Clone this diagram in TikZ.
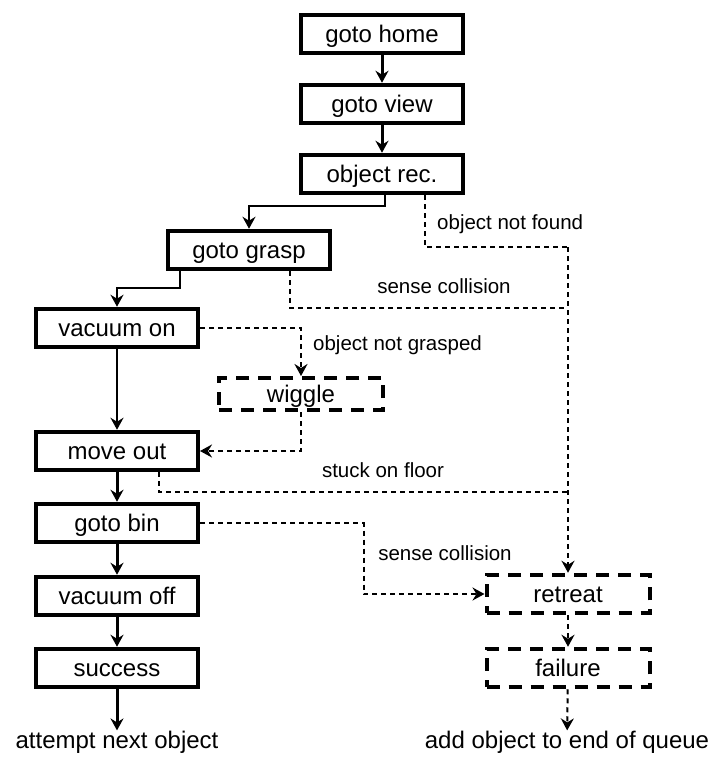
\documentclass[tikz,border=0pt]{standalone}
\usepackage{fontspec}
\setmainfont{Liberation Sans}
\usetikzlibrary{arrows.meta}
\begin{document}
\begin{tikzpicture}[x=1pt,y=-1pt,
  tip/.style={-{Stealth[length=12pt,width=13pt,inset=4pt]}},
  stepbox/.style={draw=black, line width=4pt, minimum width=162pt, minimum height=38.5pt,
    inner sep=0pt, text height=18pt, text depth=2pt, font=\fontsize{24}{28}\selectfont},
  altbox/.style={stepbox, dash pattern=on 13pt off 9pt},
  mainflow/.style={line width=3pt, tip},
  sideflow/.style={line width=2pt, tip},
  failline/.style={line width=2pt, dash pattern=on 5pt off 4pt},
  failflow/.style={failline, tip},
  lbl/.style={font=\fontsize{20.5}{24}\selectfont, inner sep=0pt},
  endtext/.style={font=\fontsize{24}{28}\selectfont, inner sep=0pt}
]
\useasboundingbox (0,0) rectangle (715,763);

% main sequence
\node[stepbox] (home)    at (382,34)  {goto home};
\node[stepbox] (view)    at (382,104) {goto view};
\node[stepbox] (rec)     at (382,174) {object rec.};
\node[stepbox] (grasp)   at (249,250) {goto grasp};
\node[stepbox] (vacon)   at (117,328) {vacuum on};
\node[altbox, minimum width=164pt, minimum height=32pt] (wiggle) at (301,394) {wiggle};
\node[stepbox] (moveout) at (117,451) {move out};
\node[stepbox] (bin)     at (117,523) {goto bin};
\node[stepbox] (vacoff)  at (117,596) {vacuum off};
\node[stepbox] (success) at (117,668) {success};

% recovery branch
\node[altbox, minimum width=163pt] (retreat) at (568,594) {retreat};
\node[altbox, minimum width=163pt] (failure) at (568,668) {failure};

% outcomes
\node[endtext, anchor=base] (next)  at (117,748) {attempt next object};
\node[endtext, anchor=base] (queue) at (567,748) {add object to end of queue};

% junction points on the failure bus
\coordinate (busTop)   at (568,247);
\coordinate (busGrasp) at (568,308);
\coordinate (busFloor) at (568,492);

% main flow
\draw[mainflow] (home) -- (view);
\draw[mainflow] (view) -- (rec);
\draw[sideflow] ([xshift=3pt]rec.south) -- ++(0,11) -| (grasp.north);
\draw[sideflow] ([xshift=-69pt]grasp.south) -- ++(0,17) -| (vacon.north);
\draw[sideflow] (vacon) -- (moveout);
\draw[mainflow] (moveout) -- (bin);
\draw[mainflow] (bin) -- (vacoff);
\draw[mainflow] (vacoff) -- (success);
\draw[mainflow] (success) -- (next);

% failure handling
\draw[failline] ([xshift=43pt]rec.south) |- (busTop);
\draw[failflow] (busTop) -- (retreat.north);
\draw[failline] ([xshift=41pt]grasp.south) |- (busGrasp);
\draw[failline] ([xshift=42pt]moveout.south) |- (busFloor);
\draw[failflow] (vacon.east) -| (wiggle.north);
\draw[failflow] (wiggle.south) |- (moveout.east);
\draw[failflow] (bin.east) -| ([xshift=-121pt]retreat.west) -- (retreat.west);
\draw[failflow] (retreat) -- (failure);
\draw[failflow] (failure) -- (queue);

% labels
\node[lbl, anchor=base west] (lNotFound) at (437,229) {object not found};
\node[lbl, anchor=base] (lColl1) at (444,293) {sense collision};
\node[lbl, anchor=base west] (lNotGrasped) at (313,350) {object not grasped};
\node[lbl, anchor=base] (lFloor) at (383,477) {stuck on floor};
\node[lbl, anchor=base] (lColl2) at (445,560) {sense collision};
\end{tikzpicture}
\end{document}
